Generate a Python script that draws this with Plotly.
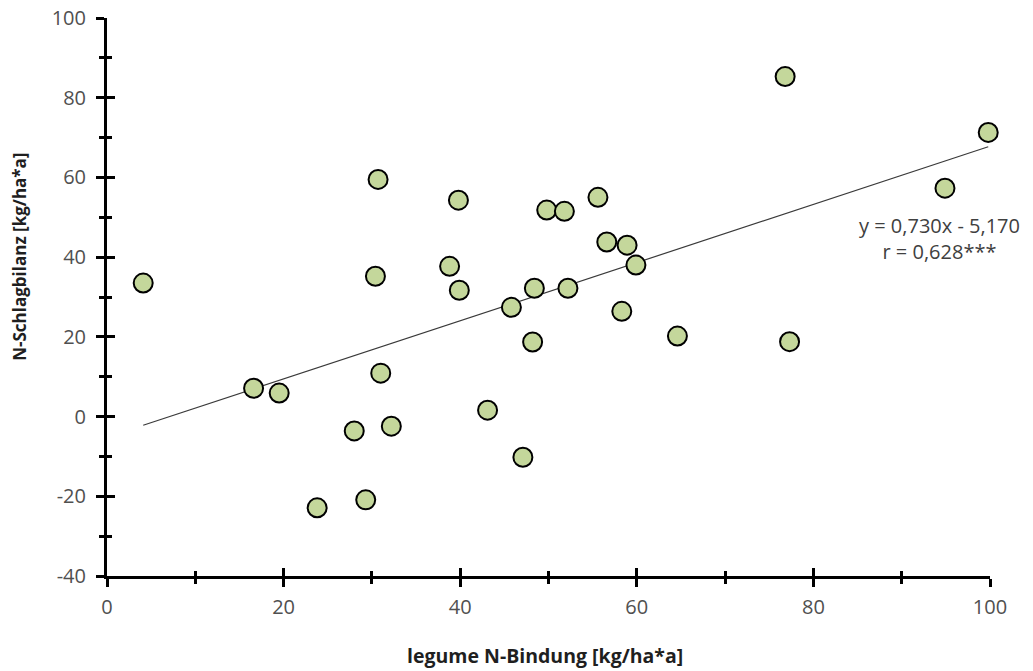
import plotly.graph_objects as go

# Legume N fixation vs. N field balance per site
n_bindung = [4.1, 16.6, 19.5, 23.8, 28.0, 29.3, 30.4, 30.7, 31.0, 32.2,
             38.8, 39.8, 39.9, 43.1, 45.8, 47.1, 48.2, 48.4, 49.8, 51.8,
             52.2, 55.6, 56.6, 58.3, 58.9, 59.9, 64.6, 76.8, 77.3, 94.9, 99.8]
n_bilanz = [33.5, 7.1, 5.9, -22.9, -3.6, -20.9, 35.2, 59.5, 10.9, -2.4,
            37.7, 54.3, 31.7, 1.6, 27.4, -10.2, 18.7, 32.2, 51.8, 51.5,
            32.2, 55.0, 43.8, 26.4, 43.0, 38.0, 20.2, 85.3, 18.8, 57.3, 71.3]

x_ticks = [0, 20, 40, 60, 80, 100]
y_ticks = [-40, -20, 0, 20, 40, 60, 80, 100]

# Regression line parameters (as reported)
slope = 0.730
intercept = -5.170
r_value = "0,628***"

x_line = [min(n_bindung), max(n_bindung)]
y_line = [slope * v + intercept for v in x_line]

FONT = "Open Sans"
TICK_COL = "#505050"
TITLE_COL = "#1f1f1f"
NOTE_COL = "#404040"

fig = go.Figure()

fig.add_trace(go.Scatter(
    x=x_line, y=y_line, mode="lines",
    line=dict(color="#3a3a3a", width=1.2),
    hoverinfo="skip", showlegend=False,
))

fig.add_trace(go.Scatter(
    x=n_bindung, y=n_bilanz, mode="markers",
    marker=dict(size=19, color="#C4D79B", line=dict(color="#000000", width=2)),
    cliponaxis=False, showlegend=False,
))

# invisible trace carrying the overlay axes (inner half of crossing ticks)
fig.add_trace(go.Scatter(x=[None], y=[None], xaxis="x2", yaxis="y2",
                         showlegend=False, hoverinfo="skip"))

major = dict(ticklen=8, tickwidth=3, tickcolor="#000000")


def minor(side):
    return dict(dtick=10, ticklen=5, tickwidth=2.5, tickcolor="#000000", ticks=side)


tickfont = dict(family=FONT, size=20, color=TICK_COL)

fig.update_layout(
    width=1033, height=671,
    margin=dict(l=107, r=43, t=18, b=95),
    paper_bgcolor="white", plot_bgcolor="white",
    font=dict(family=FONT, color=TICK_COL, size=18),
    xaxis=dict(
        range=[0, 100], tickvals=x_ticks, ticktext=[str(v) for v in x_ticks],
        showgrid=False, zeroline=False, automargin=False,
        showline=True, linecolor="#000000", linewidth=3,
        ticks="outside", **major, minor=minor("outside"), tickfont=tickfont,
        ticklabelstandoff=3,
    ),
    yaxis=dict(
        range=[-40, 100], tickvals=y_ticks, ticktext=[str(v) for v in y_ticks],
        showgrid=False, zeroline=False, automargin=False,
        showline=True, linecolor="#000000", linewidth=3,
        ticks="outside", **major, minor=minor("outside"), tickfont=tickfont,
        ticklabelstandoff=6,
    ),
    xaxis2=dict(
        overlaying="x", anchor="y2", side="bottom", range=[0, 100], tickvals=x_ticks,
        showgrid=False, zeroline=False, showline=False, showticklabels=False,
        automargin=False, ticks="inside", **major, minor=minor("inside"),
    ),
    yaxis2=dict(
        overlaying="y", anchor="x2", side="left", range=[-40, 100], tickvals=y_ticks,
        showgrid=False, zeroline=False, showline=False, showticklabels=False,
        automargin=False, ticks="inside", **major, minor=minor("inside"),
    ),
    annotations=[
        dict(
            x=94.3, y=44.6, xref="x", yref="y",
            text=f"y = {slope:.3f}x - {abs(intercept):.3f}".replace(".", ",")
                 + f"<br>r = {r_value}",
            showarrow=False, align="center",
            font=dict(family=FONT, size=20, color=NOTE_COL),
        ),
        dict(
            x=0.496, y=0, xref="paper", yref="paper", yanchor="middle",
            yshift=-79, showarrow=False,
            text="<b>legume N-Bindung [kg/ha*a]</b>",
            font=dict(family=FONT, size=19.5, color=TITLE_COL),
        ),
        dict(
            x=0, y=0.572, xref="paper", yref="paper", xanchor="center",
            xshift=-87, showarrow=False, textangle=-90,
            text="<b>N-Schlagbilanz [kg/ha*a]</b>",
            font=dict(family=FONT, size=17, color=TITLE_COL),
        ),
    ],
)

fig.write_html("out.html")
